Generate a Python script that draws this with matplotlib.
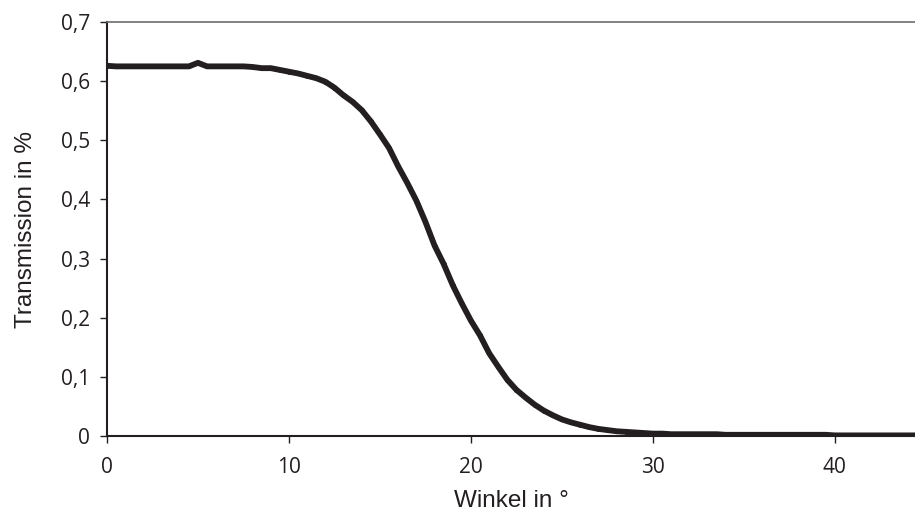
# Transmission über dem Winkel

import numpy as np
import matplotlib.pyplot as plt
from matplotlib.ticker import FuncFormatter, MultipleLocator

# Messwerte (Winkel in °, Transmission)
winkel = np.arange(0, 44.6, 0.5)
transmission = np.array([
    0.626, 0.625, 0.625, 0.625, 0.625, 0.625, 0.625, 0.625, 0.625, 0.625,
    0.631, 0.625, 0.625, 0.625, 0.625, 0.625, 0.624, 0.622, 0.622, 0.619,
    0.616, 0.613, 0.609, 0.605, 0.599, 0.589, 0.576, 0.565, 0.551, 0.532,
    0.510, 0.487, 0.456, 0.428, 0.398, 0.362, 0.322, 0.291, 0.255, 0.224,
    0.195, 0.170, 0.140, 0.117, 0.095, 0.078, 0.065, 0.053, 0.043, 0.035,
    0.028, 0.023, 0.019, 0.015, 0.012, 0.010, 0.008, 0.007, 0.006, 0.005,
    0.004, 0.004, 0.003, 0.003, 0.003, 0.003, 0.003, 0.003, 0.002, 0.002,
    0.002, 0.002, 0.002, 0.002, 0.002, 0.002, 0.002, 0.002, 0.002, 0.002,
    0.001, 0.001, 0.001, 0.001, 0.001, 0.001, 0.001, 0.001, 0.001, 0.001,
])

dunkel = '#231f20'

fig = plt.figure(figsize=(9.15, 5.17), dpi=100)
ax = fig.add_axes([0.1169, 0.1567, 1 - 0.1169, 0.9574 - 0.1567])

ax.plot(winkel, transmission, '-o', color=dunkel, lw=4.2, ms=3.5, markeredgewidth=0)

ax.set_xlim(0, 44.4)
ax.set_ylim(0, 0.7)
ax.xaxis.set_major_locator(MultipleLocator(10))
ax.yaxis.set_major_locator(MultipleLocator(0.1))

komma = FuncFormatter(lambda v, p: '0' if abs(v) < 1e-9 else f'{v:.1f}'.replace('.', ','))
ax.yaxis.set_major_formatter(komma)
ax.xaxis.set_major_formatter(FuncFormatter(lambda v, p: f'{v:.0f}'))

for s in ['left', 'bottom']:
    ax.spines[s].set_color(dunkel)
    ax.spines[s].set_linewidth(1.5)
ax.spines['top'].set_color('#6d6d6d')
ax.spines['top'].set_linewidth(1.2)
ax.spines['right'].set_visible(False)

ax.tick_params(direction='out', length=5, width=1, color=dunkel, labelcolor=dunkel,
               labelsize=15)
ax.tick_params(axis='y', pad=7)
ax.tick_params(axis='x', pad=10)
for lab in ax.get_xticklabels() + ax.get_yticklabels():
    lab.set_family('Open Sans')

ax.set_xlabel('Winkel in °', family='Liberation Sans', fontsize=17.5, color=dunkel, labelpad=9)
ax.set_ylabel('Transmission in %', family='Liberation Sans', fontsize=17.5, color=dunkel, labelpad=17)

fig.savefig('out.png', dpi=100)
